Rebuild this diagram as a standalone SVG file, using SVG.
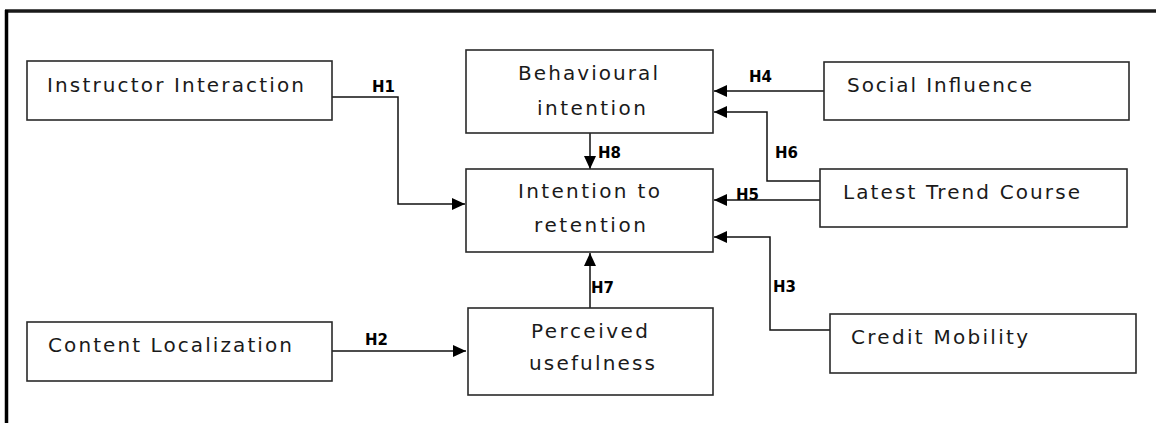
<svg xmlns="http://www.w3.org/2000/svg" width="1156" height="423" viewBox="0 0 1156 423">
  <style>
    .box { fill: #ffffff; stroke: #2a2a2a; stroke-width: 1.6; }
    .lbl { font-family: "DejaVu Sans", Verdana, sans-serif; font-size: 20px; fill: #1a1a1a; }
    .h { font-family: "DejaVu Sans", Verdana, sans-serif; font-size: 15px; font-weight: bold; fill: #000000; }
    .conn { fill: none; stroke: #111111; stroke-width: 1.5; }
  </style>
  <defs>
    <marker id="arrow" markerUnits="userSpaceOnUse" markerWidth="14" markerHeight="12" refX="13" refY="6" orient="auto">
      <path d="M0,0 L13,6 L0,12 Z" fill="#000000"/>
    </marker>
  </defs>
  <rect width="1156" height="423" fill="#ffffff"/>
  <g id="frame">
    <line x1="5" y1="11" x2="1156" y2="11" stroke="#1a1a1a" stroke-width="3.5"/>
    <line x1="6.5" y1="10" x2="6.5" y2="423" stroke="#000000" stroke-width="3.5"/>
  </g>
  <g id="connectors">
    <polyline class="conn" points="332,97 398,97 398,204 465,204" marker-end="url(#arrow)"/>
    <text class="h" x="372" y="92">H1</text>
    <polyline class="conn" points="332,351 466,351" marker-end="url(#arrow)"/>
    <text class="h" x="365" y="345">H2</text>
    <polyline class="conn" points="830,330 770,330 770,237 714,237" marker-end="url(#arrow)"/>
    <text class="h" x="773" y="292">H3</text>
    <polyline class="conn" points="824,91 714,91" marker-end="url(#arrow)"/>
    <text class="h" x="749" y="82">H4</text>
    <polyline class="conn" points="820,200 714,200" marker-end="url(#arrow)"/>
    <text class="h" x="736" y="200">H5</text>
    <polyline class="conn" points="820,181 767,181 767,112 714,112" marker-end="url(#arrow)"/>
    <text class="h" x="775" y="158">H6</text>
    <polyline class="conn" points="590,308 590,253" marker-end="url(#arrow)"/>
    <text class="h" x="591" y="293">H7</text>
    <polyline class="conn" points="590,133 590,169" marker-end="url(#arrow)"/>
    <text class="h" x="598" y="158">H8</text>
  </g>
  <g id="instructor-interaction">
    <rect class="box" x="27" y="61" width="305" height="59"/>
    <text class="lbl" x="47" y="92" textLength="257" lengthAdjust="spacing">Instructor Interaction</text>
  </g>
  <g id="behavioural-intention">
    <rect class="box" x="466" y="50" width="247" height="83"/>
    <text class="lbl" x="518" y="80" textLength="140" lengthAdjust="spacing">Behavioural</text>
    <text class="lbl" x="537" y="115" textLength="109" lengthAdjust="spacing">intention</text>
  </g>
  <g id="social-influence">
    <rect class="box" x="824" y="62" width="305" height="58"/>
    <text class="lbl" x="847" y="92" textLength="185" lengthAdjust="spacing">Social Influence</text>
  </g>
  <g id="intention-to-retention">
    <rect class="box" x="466" y="169" width="247" height="83"/>
    <text class="lbl" x="518" y="198" textLength="142" lengthAdjust="spacing">Intention to</text>
    <text class="lbl" x="534" y="232" textLength="112" lengthAdjust="spacing">retention</text>
  </g>
  <g id="latest-trend-course">
    <rect class="box" x="820" y="169" width="307" height="58"/>
    <text class="lbl" x="843" y="199" textLength="237" lengthAdjust="spacing">Latest Trend Course</text>
  </g>
  <g id="credit-mobility">
    <rect class="box" x="830" y="314" width="306" height="59"/>
    <text class="lbl" x="851" y="344" textLength="177" lengthAdjust="spacing">Credit Mobility</text>
  </g>
  <g id="content-localization">
    <rect class="box" x="27" y="322" width="305" height="59"/>
    <text class="lbl" x="48" y="352" textLength="244" lengthAdjust="spacing">Content Localization</text>
  </g>
  <g id="perceived-usefulness">
    <rect class="box" x="468" y="308" width="245" height="87"/>
    <text class="lbl" x="531" y="338" textLength="117" lengthAdjust="spacing">Perceived</text>
    <text class="lbl" x="529" y="370" textLength="126" lengthAdjust="spacing">usefulness</text>
  </g>
</svg>
